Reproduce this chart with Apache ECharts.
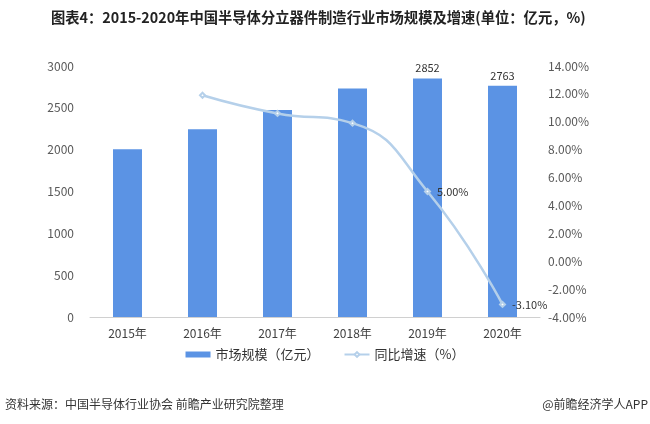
<!DOCTYPE html>
<html><head><meta charset="utf-8">
<script src="https://cdn.jsdelivr.net/npm/echarts@6/dist/echarts.min.js"></script>
<style>html,body{margin:0;padding:0;background:#fff;}#c{width:650px;height:424px;}</style>
</head><body><div id="c"></div>
<script>
var categories = ['2015年','2016年','2017年','2018年','2019年','2020年'];
var marketSize = [2005, 2243, 2475, 2730, 2852, 2763];
var growth = [null, 11.9, 10.6, 9.9, 5.00, -3.10];
var leftTicks = [0, 3000, 500];
var rightTicks = [-4, 14, 2];
var labelShowIdx = [4, 5];

var chart = echarts.init(document.getElementById('c'));
var font = '"Noto Sans CJK SC", "Noto Sans", sans-serif';
chart.setOption({
  backgroundColor: '#fff',
  animation: false,
  textStyle: {fontFamily: font},
  title: {
    text: '图表4：2015-2020年中国半导体分立器件制造行业市场规模及增速(单位：亿元，%)',
    left: 46, top: 5,
    textStyle: {fontSize: 14.3, fontWeight: 'bold', color: '#222', fontFamily: font}
  },
  legend: {
    bottom: 58, left: 'center', itemGap: 24, itemWidth: 25, itemHeight: 6,
    textStyle: {fontSize: 13, color: '#333'},
    data: [{name: '市场规模（亿元）', icon: 'rect'}, {name: '同比增速（%）'}]
  },
  grid: {left: 90, right: 110, top: 66, bottom: 107},
  xAxis: {
    type: 'category', data: categories,
    axisLine: {lineStyle: {color: '#d0d0d0'}},
    axisTick: {show: false},
    axisLabel: {fontSize: 12, color: '#404040', margin: 10}
  },
  yAxis: [{
    type: 'value', min: leftTicks[0], max: leftTicks[1], interval: leftTicks[2],
    splitLine: {show: false}, axisLine: {show: false}, axisTick: {show: false},
    axisLabel: {fontSize: 12, color: '#595959', margin: 16, formatter: function(v){return String(v);}}
  }, {
    type: 'value', min: rightTicks[0], max: rightTicks[1], interval: rightTicks[2],
    splitLine: {show: false}, axisLine: {show: false}, axisTick: {show: false},
    axisLabel: {fontSize: 12, color: '#595959', margin: 8, formatter: function(v){return v.toFixed(2)+'%';}}
  }],
  series: [{
    name: '市场规模（亿元）', type: 'bar', barWidth: 29,
    data: marketSize,
    itemStyle: {color: '#5b93e4'},
    label: {show: true, position: 'top', fontSize: 11, color: '#333',
      formatter: function(p){return labelShowIdx.indexOf(p.dataIndex) >= 0 ? String(p.value) : '';}}
  }, {
    name: '同比增速（%）', type: 'line', yAxisIndex: 1, smooth: true,
    data: growth, connectNulls: false,
    symbol: 'emptyDiamond', symbolSize: 5,
    lineStyle: {color: '#b5d0ea', width: 2.5},
    itemStyle: {color: '#b5d0ea'},
    label: {show: true, position: 'right', fontSize: 11, color: '#333', distance: 6,
      formatter: function(p){return labelShowIdx.indexOf(p.dataIndex) >= 0 ? p.value.toFixed(2)+'%' : '';}}
  }],
  graphic: [{
    type: 'text', left: 5, top: 398,
    style: {text: '资料来源：中国半导体行业协会 前瞻产业研究院整理', fontSize: 12, fill: '#333', fontFamily: font}
  }, {
    type: 'text', right: 2, top: 398,
    style: {text: '@前瞻经济学人APP', fontSize: 12, fill: '#333', fontFamily: font}
  }]
});
</script></body></html>
